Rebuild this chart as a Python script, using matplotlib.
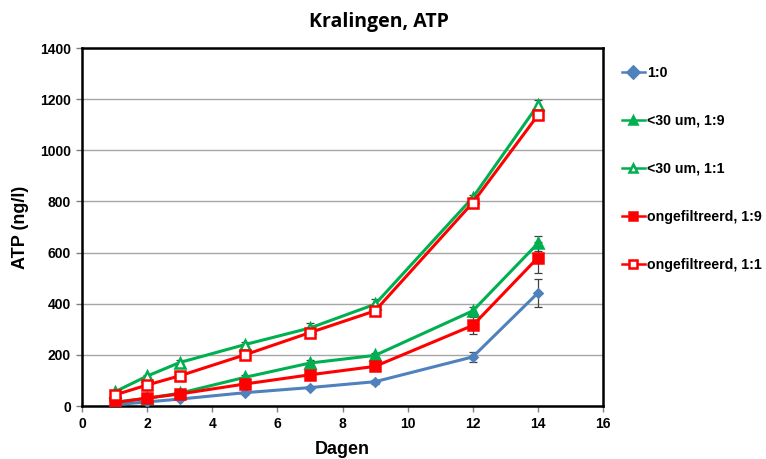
import matplotlib
matplotlib.use("Agg")
import matplotlib.pyplot as plt
from matplotlib.font_manager import FontProperties

days = [1, 2, 3, 5, 7, 9, 12, 14]

atp_1_0 = [5, 16, 27, 52, 72, 95, 192, 442]
err_1_0 = [2, 3, 4, 5, 6, 8, 20, 53]

atp_lt30_1_9 = [15, 30, 50, 112, 168, 198, 372, 636]
err_lt30_1_9 = [3, 4, 5, 8, 10, 10, 15, 30]

atp_lt30_1_1 = [55, 117, 170, 240, 305, 398, 815, 1177]
err_lt30_1_1 = [4, 6, 8, 10, 20, 20, 12, 20]

atp_ong_1_9 = [13, 31, 47, 86, 122, 155, 315, 580]
err_ong_1_9 = [3, 4, 5, 6, 8, 8, 35, 60]

atp_ong_1_1 = [43, 82, 118, 200, 287, 372, 795, 1137]
err_ong_1_1 = [4, 5, 6, 8, 10, 10, 10, 12]

labels = ["1:0", "<30 um, 1:9", "<30 um, 1:1", "ongefiltreerd, 1:9", "ongefiltreerd, 1:1"]

blue = "#4F81BD"
green = "#00B050"
red = "#FF0000"

fig = plt.figure(figsize=(7.66, 4.59), dpi=100)
ax = fig.add_axes([82 / 766, 1 - 406 / 459, (603 - 82) / 766, (406 - 48) / 459])

series = [
    (atp_1_0, err_1_0, blue, "D", blue, 4.5),
    (atp_lt30_1_9, err_lt30_1_9, green, "^", green, 7.5),
    (atp_lt30_1_1, err_lt30_1_1, green, "^", "white", 7.5),
    (atp_ong_1_9, err_ong_1_9, red, "s", red, 7.5),
    (atp_ong_1_1, err_ong_1_1, red, "s", "white", 7.5),
]

handles = []
for (vals, errs, col, mk, face, ms), lab in zip(series, labels):
    ax.errorbar(days, vals, yerr=errs, fmt="none", ecolor="#404040",
                elinewidth=0.9, capsize=3, capthick=0.9, zorder=2)
    h, = ax.plot(days, vals, color=col, lw=2.2, marker=mk, ms=ms,
                 mfc=face, mec=col, mew=1.8, label=lab, zorder=3)
    handles.append(h)

ax.set_xlim(0, 16)
ax.set_ylim(0, 1400)
ax.set_xticks(range(0, 17, 2))
ax.set_yticks(range(0, 1401, 200))
ax.yaxis.grid(True, color="#A6A6A6", lw=1)
ax.set_axisbelow(True)

tick_fp = FontProperties(family="Liberation Sans", weight="bold", size=10)
for lbl in ax.get_xticklabels() + ax.get_yticklabels():
    lbl.set_fontproperties(tick_fp)
ax.tick_params(axis="both", direction="out", length=4, width=1, color="#808080", pad=4)

for sp in ax.spines.values():
    sp.set_color("black")
    sp.set_linewidth(1.8)

ax.set_xlabel("Dagen", fontfamily="Liberation Sans", fontweight="bold", fontsize=13, labelpad=7)
ax.set_ylabel("ATP (ng/l)", fontfamily="Liberation Sans", fontweight="bold", fontsize=13, labelpad=8)
fig.text(379 / 766, 1 - 22 / 459, "Kralingen, ATP", ha="center", va="center",
         fontfamily="Open Sans", fontweight="bold", fontsize=14)

leg = fig.legend(handles=handles, loc="upper left", bbox_to_anchor=(622 / 766, 1 - 66 / 459),
                 frameon=False, prop=dict(family="Liberation Sans", weight="bold", size=10.2),
                 labelspacing=2.4, handlelength=1.6, handletextpad=0.15, borderaxespad=0,
                 borderpad=0)
for h in leg.legend_handles:
    h.set_markersize(6)
    h.set_linewidth(1.8)

fig.savefig("out.png", dpi=100)
